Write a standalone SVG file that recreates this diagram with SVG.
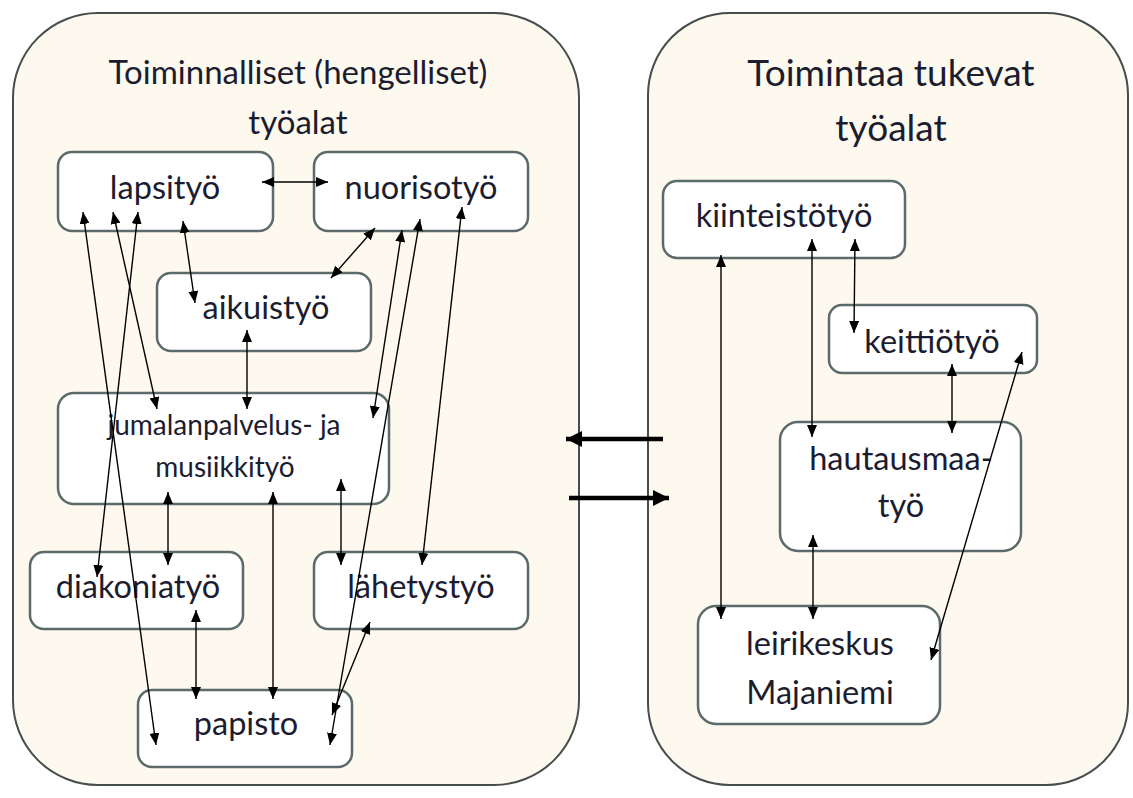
<svg xmlns="http://www.w3.org/2000/svg" width="1133" height="798" viewBox="0 0 1133 798">
  <defs>
    <style>
      .panel { fill: #fdf9ee; stroke: #454d4d; stroke-width: 2; }
      .box { fill: #ffffff; stroke: #5b6a6a; stroke-width: 2.5; }
      .t { font-family: Lato, "Open Sans", sans-serif; fill: #1c1c30; text-anchor: middle; }
      .title { font-size: 33px; }
      .title2 { font-size: 37px; }
      .lbl { font-size: 32.5px; }
      .sm { font-size: 28px; }
      .link { stroke: #000; stroke-width: 1.4; fill: none; marker-start: url(#ah); marker-end: url(#ah); }
      .big { stroke: #000; stroke-width: 4.5; fill: none; marker-end: url(#bh); }
    </style>
    <marker id="ah" viewBox="0 0 12 10" refX="12" refY="5" markerWidth="12" markerHeight="10" markerUnits="userSpaceOnUse" orient="auto-start-reverse">
      <path d="M0,0 L12,5 L0,10 z" fill="#000"/>
    </marker>
    <marker id="bh" viewBox="0 0 16 16" refX="16" refY="8" markerWidth="16" markerHeight="16" markerUnits="userSpaceOnUse" orient="auto">
      <path d="M0,0 L16,8 L0,16 z" fill="#000"/>
    </marker>
  </defs>

  <!-- panels -->
  <g id="panel-left">
    <rect class="panel" x="13" y="13" width="566" height="772" rx="85" ry="85"/>
    <text class="t title" x="298" y="84">Toiminnalliset (hengelliset)</text>
    <text class="t title" x="298" y="134">työalat</text>
  </g>
  <g id="panel-right">
    <rect class="panel" x="648" y="13" width="480" height="772" rx="82" ry="82"/>
    <text class="t title2" x="891" y="86">Toimintaa tukevat</text>
    <text class="t title2" x="891" y="141">työalat</text>
  </g>

  <!-- left nodes -->
  <g id="lapsityo">
    <rect class="box" x="58" y="152" width="215" height="79" rx="14"/>
    <text class="t lbl" x="165" y="199">lapsityö</text>
  </g>
  <g id="nuorisotyo">
    <rect class="box" x="314" y="152" width="214" height="79" rx="14"/>
    <text class="t lbl" x="421" y="199">nuorisotyö</text>
  </g>
  <g id="aikuistyo">
    <rect class="box" x="157" y="273" width="214" height="78" rx="14"/>
    <text class="t lbl" x="266" y="319">aikuistyö</text>
  </g>
  <g id="jumalanpalvelus">
    <rect class="box" x="58" y="393" width="331" height="111" rx="16"/>
    <text class="t sm" x="224" y="435">jumalanpalvelus- ja</text>
    <text class="t sm" x="225" y="477">musiikkityö</text>
  </g>
  <g id="diakoniatyo">
    <rect class="box" x="30" y="552" width="213" height="77" rx="14"/>
    <text class="t lbl" x="138" y="598">diakoniatyö</text>
  </g>
  <g id="lahetystyo">
    <rect class="box" x="314" y="552" width="214" height="77" rx="14"/>
    <text class="t lbl" x="421" y="598">lähetystyö</text>
  </g>
  <g id="papisto">
    <rect class="box" x="138" y="690" width="214" height="77" rx="14"/>
    <text class="t lbl" x="246" y="735">papisto</text>
  </g>

  <!-- right nodes -->
  <g id="kiinteistotyo">
    <rect class="box" x="663" y="181" width="242" height="77" rx="14"/>
    <text class="t lbl" x="784" y="227">kiinteistötyö</text>
  </g>
  <g id="keittiotyo">
    <rect class="box" x="829" y="305" width="208" height="68" rx="13"/>
    <text class="t lbl" x="932" y="353">keittiötyö</text>
  </g>
  <g id="hautausmaatyo">
    <rect class="box" x="780" y="422" width="241" height="129" rx="18"/>
    <text class="t lbl" x="901" y="470">hautausmaa-</text>
    <text class="t lbl" x="901" y="517">työ</text>
  </g>
  <g id="leirikeskus">
    <rect class="box" x="698" y="606" width="242" height="118" rx="18"/>
    <text class="t lbl" x="820" y="655">leirikeskus</text>
    <text class="t lbl" x="820" y="704">Majaniemi</text>
  </g>

  <!-- connectors -->
  <g id="connectors">
    <line class="link" x1="262" y1="182" x2="328" y2="182"/>
    <line class="link" x1="183" y1="221" x2="195" y2="303"/>
    <line class="link" x1="375" y1="228" x2="331" y2="278"/>
    <line class="link" x1="247" y1="330" x2="247" y2="409"/>
    <line class="link" x1="83" y1="212" x2="156" y2="745"/>
    <line class="link" x1="113" y1="212" x2="157" y2="409"/>
    <line class="link" x1="138" y1="212" x2="97" y2="577"/>
    <line class="link" x1="402" y1="230" x2="373" y2="418"/>
    <line class="link" x1="420" y1="219" x2="330" y2="745"/>
    <line class="link" x1="462" y1="207" x2="422" y2="565"/>
    <line class="link" x1="168" y1="492" x2="168" y2="565"/>
    <line class="link" x1="273" y1="492" x2="273" y2="699"/>
    <line class="link" x1="341" y1="479" x2="341" y2="565"/>
    <line class="link" x1="196" y1="610" x2="196" y2="699"/>
    <line class="link" x1="370" y1="622" x2="332" y2="715"/>

    <line class="link" x1="721" y1="255" x2="721" y2="619"/>
    <line class="link" x1="812" y1="239" x2="812" y2="437"/>
    <line class="link" x1="855" y1="239" x2="854" y2="333"/>
    <line class="link" x1="952" y1="364" x2="952" y2="433"/>
    <line class="link" x1="1022" y1="352" x2="931" y2="660"/>
    <line class="link" x1="813" y1="535" x2="813" y2="619"/>

    <line class="big" x1="663" y1="439" x2="566" y2="439"/>
    <line class="big" x1="569" y1="498" x2="669" y2="498"/>
  </g>
</svg>
